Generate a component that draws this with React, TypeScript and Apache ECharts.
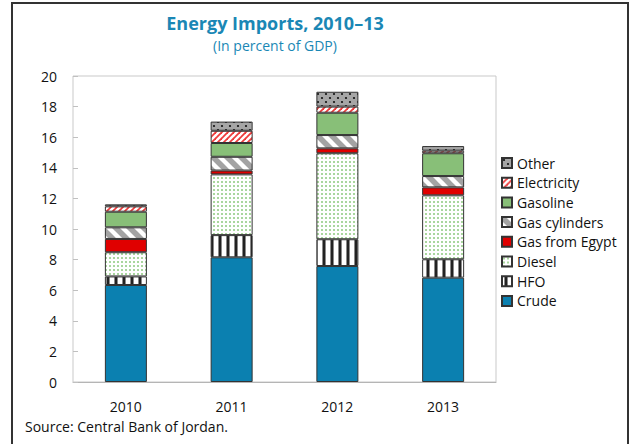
import React, { useEffect, useRef } from "react";
import * as echarts from "echarts";

const years = ["2010", "2011", "2012", "2013"];
const crude = [6.34, 8.15, 7.58, 6.82];
const hfo = [0.56, 1.45, 1.75, 1.2];
const diesel = [1.58, 3.97, 5.62, 4.18];
const gasEgypt = [0.87, 0.25, 0.32, 0.52];
const gasCylinders = [0.76, 0.9, 0.87, 0.74];
const gasoline = [1.02, 0.9, 1.46, 1.49];
const electricity = [0.35, 0.8, 0.4, 0.17];
const other = [0.13, 0.6, 0.97, 0.3];
const yTicks = [0, 2, 4, 6, 8, 10, 12, 14, 16, 18, 20];
const legendOrder = ["Other", "Electricity", "Gasoline", "Gas cylinders", "Gas from Egypt", "Diesel", "HFO", "Crude"];

const FONT = "'Open Sans', 'Noto Sans', sans-serif";
const TITLE_COLOR = "#1a87b5";

function makePattern(w: number, h: number, draw: (c: CanvasRenderingContext2D) => void) {
  const cv = document.createElement("canvas");
  cv.width = w;
  cv.height = h;
  const ctx = cv.getContext("2d")!;
  draw(ctx);
  return { image: cv, repeat: "repeat", imageWidth: w, imageHeight: h } as any;
}

export default function App() {
  const ref = useRef<HTMLDivElement>(null);
  useEffect(() => {
    if (!ref.current) return;
    const chart = echarts.init(ref.current, undefined, { renderer: "svg" });

    const hfoPat = makePattern(8, 8, (c) => {
      c.fillStyle = "#fff";
      c.fillRect(0, 0, 8, 8);
      c.fillStyle = "#8a8a8a";
      c.fillRect(2, 0, 4, 8);
      c.fillStyle = "#222";
      c.fillRect(3, 0, 2, 8);
    });
    const dieselPat = makePattern(4, 4, (c) => {
      c.fillStyle = "#fff";
      c.fillRect(0, 0, 4, 4);
      c.fillStyle = "#a9d69e";
      c.fillRect(1, 1, 2, 2);
    });
    const cylPat = makePattern(14, 14, (c) => {
      c.fillStyle = "#fff";
      c.fillRect(0, 0, 14, 14);
      c.strokeStyle = "#a3a3a3";
      c.lineWidth = 5.5;
      for (const dx of [-14, 0, 14]) {
        c.beginPath();
        c.moveTo(dx - 2, -2);
        c.lineTo(dx + 16, 16);
        c.stroke();
      }
    });
    const elecPat = makePattern(6, 6, (c) => {
      c.fillStyle = "#fff";
      c.fillRect(0, 0, 6, 6);
      c.strokeStyle = "#ee3b3b";
      c.lineWidth = 1.8;
      for (const dx of [-6, 0, 6]) {
        c.beginPath();
        c.moveTo(dx - 1, 7);
        c.lineTo(dx + 7, -1);
        c.stroke();
      }
    });
    const otherPat = makePattern(8, 8, (c) => {
      c.fillStyle = "#a6a6a6";
      c.fillRect(0, 0, 8, 8);
      c.fillStyle = "#111";
      c.beginPath();
      c.arc(2, 2, 1.1, 0, Math.PI * 2);
      c.fill();
      c.beginPath();
      c.arc(6, 6, 1.1, 0, Math.PI * 2);
      c.fill();
    });

    const seriesDefs: [string, number[], any][] = [
      ["Crude", crude, "#0b80b0"],
      ["HFO", hfo, hfoPat],
      ["Diesel", diesel, dieselPat],
      ["Gas from Egypt", gasEgypt, "#e00000"],
      ["Gas cylinders", gasCylinders, cylPat],
      ["Gasoline", gasoline, "#88bf78"],
      ["Electricity", electricity, elecPat],
      ["Other", other, otherPat],
    ];

    chart.setOption({
      animation: false,
      textStyle: { fontFamily: FONT },
      title: {
        text: "Energy Imports, 2010–13",
        subtext: "(In percent of GDP)",
        left: 270,
        textAlign: "center",
        top: 9,
        itemGap: 6,
        textStyle: { fontFamily: FONT, fontWeight: "bold", fontSize: 18, color: TITLE_COLOR },
        subtextStyle: { fontFamily: FONT, fontSize: 14, color: TITLE_COLOR },
      },
      legend: {
        orient: "vertical",
        left: 501,
        top: 155,
        padding: 0,
        itemWidth: 10,
        itemHeight: 10,
        itemGap: 3.7,
        icon: "rect",
        data: legendOrder,
        textStyle: { fontFamily: FONT, fontSize: 14, color: "#111", lineHeight: 16 },
      },
      grid: {
        left: 73,
        top: 76,
        right: 135,
        bottom: 62,
        show: true,
        borderColor: "#c9c9c9",
        borderWidth: 1,
      },
      xAxis: {
        type: "category",
        data: years,
        axisLine: { lineStyle: { color: "#b5b5b5", width: 1 } },
        axisTick: { inside: true, length: 5, lineStyle: { color: "#c0c0c0" } },
        axisLabel: { margin: 17, fontSize: 14, color: "#111", fontFamily: FONT },
      },
      yAxis: {
        type: "value",
        min: yTicks[0],
        max: yTicks[yTicks.length - 1],
        interval: 2,
        splitLine: { show: false },
        axisLine: { show: false },
        axisTick: { show: true, inside: true, length: 5, lineStyle: { color: "#c0c0c0" } },
        axisLabel: { margin: 16, fontSize: 14, color: "#111", fontFamily: FONT },
      },
      series: seriesDefs.map(([name, data, color]) => ({
        name,
        type: "bar",
        stack: "total",
        barWidth: 42,
        data,
        itemStyle: { color, borderColor: "#333", borderWidth: 1 },
      })),
      graphic: [
        {
          type: "rect",
          shape: { x: 12, y: 3, width: 616, height: 470 },
          style: { fill: "none", stroke: "#333", lineWidth: 2 },
          silent: true,
        },
        {
          type: "text",
          left: 25,
          top: 419,
          style: { text: "Source: Central Bank of Jordan.", fontFamily: FONT, fontSize: 14, fill: "#111" },
        },
      ],
    });
    return () => chart.dispose();
  }, []);
  return <div ref={ref} style={{ position: "fixed", left: 0, top: 0, width: 631, height: 444, background: "#fff" }} />;
}
